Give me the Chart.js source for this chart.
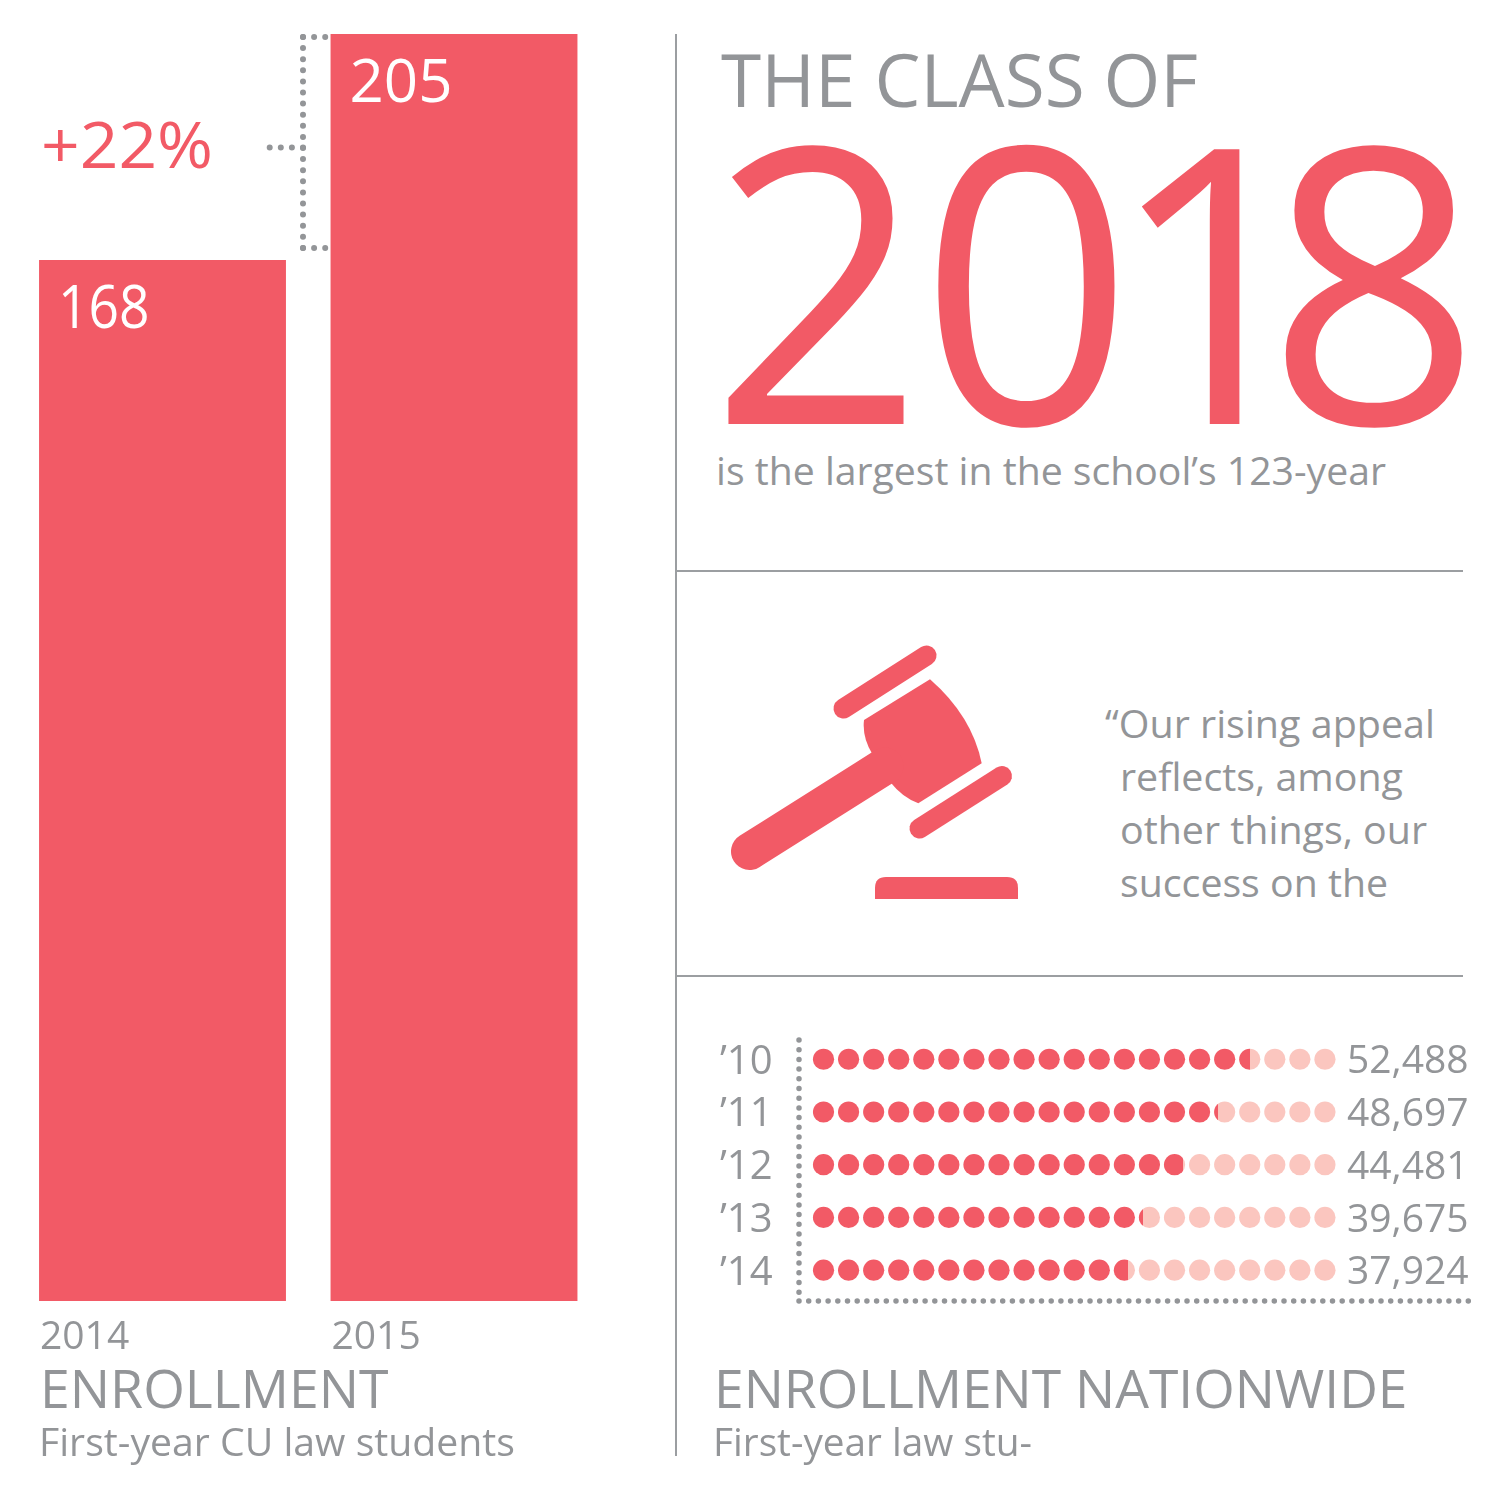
<!DOCTYPE html>
<html><head><meta charset="utf-8">
<script src="https://cdn.jsdelivr.net/npm/chart.js@4"></script>
<style>
html,body{margin:0;padding:0;background:#fff;width:1500px;height:1496px;overflow:hidden}
#page{position:relative;width:1500px;height:1496px;overflow:hidden}
canvas{position:absolute;display:block;left:0;top:0}
#barBox{position:absolute;left:0;top:0;width:660px;height:1496px}
#dotBox{position:absolute;left:718px;top:1000px;width:782px;height:496px}
.t{position:absolute;white-space:nowrap;font-family:"Open Sans",sans-serif;font-weight:400;line-height:normal;transform-origin:0 0}
.rule{position:absolute;background:#9b9ea1}
svg{position:absolute;left:0;top:0}
</style></head>
<body><div id="page">
<div class="rule" style="left:675px;top:34px;width:2px;height:1422px"></div>
<div class="rule" style="left:677px;top:570px;width:786px;height:2px"></div>
<div class="rule" style="left:677px;top:975px;width:786px;height:2px"></div>
<svg width="1500" height="1496" viewBox="0 0 1500 1496">
 <g fill="#F25A66" stroke="none">
  <path d="M930 679.3Q972 716 981.7 763.3L918.3 803.3Q902 797 890 781.7L872.3 754Q862 737 864 720Z"/>
  <path d="M875 899V888Q875 877 886 877H1007Q1018 877 1018 888V899Z"/>
 </g>
 <g fill="none" stroke="#F25A66" stroke-linecap="round">
  <line x1="843.5" y1="708.5" x2="926.5" y2="655.5" stroke-width="20"/>
  <line x1="919.5" y1="828.5" x2="1002" y2="776" stroke-width="20"/>
  <line x1="749.5" y1="851.5" x2="885" y2="766" stroke-width="37"/>
 </g>
</svg>
<div id="barBox"><canvas id="bars" width="660" height="1496"></canvas></div>
<div id="dotBox"><canvas id="dots" width="782" height="496"></canvas></div>
<div class="t" id="big" style="left:710px;top:12.4px;font-size:385px;color:#F25A66;transform:scaleX(.972)"><span style="letter-spacing:-4.6px">2</span><span style="letter-spacing:-26.2px">0</span><span style="letter-spacing:-56.6px">1</span><span>8</span></div>
</div>
<script>
const barYears = ['2014','2015'];
const barValues = [168,205];
const dotYears = ['\u201910','\u201911','\u201912','\u201913','\u201914'];
const nationwide = [52488,48697,44481,39675,37924];
const nationwideLabels = ['52,488','48,697','44,481','39,675','37,924'];
const dotSlots = [1500,4500,7500,10500,13500,16500,19500,22500,25500,28500,31500,34500,37500,40500,43500,46500,49500,52500,55500,58500,61500];
const dotAxisMax = 63000;

const RED='#F25A66', LIGHT='#FBC6BF', GRAY='#939598';
const FONT='"Open Sans", sans-serif';

function fit(text,left,baseline,size,width,color){
  const d=document.createElement('div');
  d.className='t';d.textContent=text;
  d.style.fontSize=size+'px';d.style.color=color||GRAY;
  d.style.left=left+'px';d.style.top=(baseline-1.069*size)+'px';
  document.getElementById('page').appendChild(d);
  const w=d.getBoundingClientRect().width;
  d.style.transform='scaleX('+(width/w)+')';
}
fit('+22%',41,168,64,172,RED);
fit('THE CLASS OF',721,107,73,477,GRAY);
fit('is the largest in the school\u2019s 123-year',716,485,38,670,GRAY);
fit('\u201COur rising appeal',1105,738,38,330,GRAY);
fit('reflects, among',1120,791,38,283,GRAY);
fit('other things, our',1120,844,38,307,GRAY);
fit('success on the',1120,897,38,268,GRAY);
fit('ENROLLMENT',39.5,1408,53,348.5,GRAY);
fit('First-year CU law students',39,1456,38,476,GRAY);
fit('ENROLLMENT NATIONWIDE',713.5,1408,53,693.5,GRAY);
fit('First-year law stu-',713,1456,38,319,GRAY);

const barLabels={id:'barLabels',afterDatasetsDraw(c){
  const g=c.ctx,m=c.getDatasetMeta(0);
  g.save();g.fillStyle='#fff';g.font='400 60px '+FONT;g.textBaseline='alphabetic';
  m.data.forEach((el,i)=>{
    const s=String(barValues[i]);
    g.save();g.translate(el.x-el.width/2+19,el.y+68);g.scale(s.includes('1')?0.89:1,1);g.fillText(s,0,0);g.restore();
  });
  g.restore();
}};
const bracket={id:'bracket',afterDraw(c){
  const g=c.ctx,y=c.scales.y;
  const top=y.getPixelForValue(205)+3, bot=y.getPixelForValue(168)-12;
  g.save();g.strokeStyle=GRAY;g.lineWidth=6;g.lineCap='round';g.setLineDash([0,11.1]);
  const seg=(a,b,e,f)=>{g.beginPath();g.moveTo(a,b);g.lineTo(e,f);g.stroke();};
  seg(303,top,303,bot+.5);
  seg(303,top,326,top);
  seg(303,bot,326,bot);
  seg(303,147.5,269,147.5);
  g.restore();
}};
new Chart(document.getElementById('bars'),{
  type:'bar',
  data:{labels:barYears,datasets:[{data:barValues,base:-2.4,backgroundColor:RED,barPercentage:0.847,categoryPercentage:1,borderWidth:0}]},
  plugins:[barLabels,bracket],
  options:{responsive:false,animation:false,devicePixelRatio:1,
    layout:{padding:{top:34,left:16.75,right:60.25,bottom:0}},
    plugins:{legend:{display:false},tooltip:{enabled:false},title:{display:false}},
    scales:{
      y:{display:false,min:-2.4,max:205},
      x:{afterFit(s){s.height=195;},grid:{display:false,drawTicks:false},border:{display:false},
        ticks:{align:'start',labelOffset:-122.5,padding:13,maxRotation:0,color:GRAY,font:{family:FONT,size:39,weight:'400'}}}
    }
  }
});

const dotFrame={id:'dotFrame',beforeDatasetsDraw(c){
  const g=c.ctx;
  g.save();g.strokeStyle=GRAY;g.lineWidth=5.5;g.lineCap='round';g.setLineDash([0,9.7]);
  const ax=c.scales.x.getPixelForValue(0)-12;
  const by=c.scales.y.bottom+4.5;
  g.beginPath();g.moveTo(ax,40);g.lineTo(ax,by-6);g.stroke();
  g.beginPath();g.moveTo(ax,by);g.lineTo(757,by);g.stroke();
  g.restore();
}};
new Chart(document.getElementById('dots'),{
  type:'scatter',
  data:{datasets:dotYears.map((yr,i)=>({
    label:yr,
    data:dotSlots.map(v=>({x:v,y:yr})),
    pointRadius:10.6,pointHoverRadius:10.6,pointBorderWidth:0,showLine:false,
    pointBackgroundColor(ctx){
      const x=ctx.chart.scales.x;
      const p0=x.getPixelForValue(0),p1=x.getPixelForValue(dotAxisMax);
      if(!isFinite(p0)||!isFinite(p1))return RED;
      const a=ctx.chart.ctx.createLinearGradient(p0,0,p1,0);
      const f=nationwide[i]/dotAxisMax;
      a.addColorStop(0,RED);a.addColorStop(f,RED);a.addColorStop(f,LIGHT);a.addColorStop(1,LIGHT);
      return a;
    }
  }))},
  plugins:[dotFrame],
  options:{responsive:false,animation:false,devicePixelRatio:1,
    layout:{padding:{top:32.3,left:2,right:0,bottom:199.5}},
    plugins:{legend:{display:false},tooltip:{enabled:false}},
    scales:{
      x:{type:'linear',display:false,min:0,max:dotAxisMax},
      y:{type:'category',labels:dotYears,offset:true,position:'left',afterFit(s){s.width=91;},
        grid:{display:false,drawTicks:false},border:{display:false},
        ticks:{crossAlign:'far',padding:0,labelOffset:3,color:GRAY,font:{family:FONT,size:40,weight:'400'}}},
      y2:{type:'category',labels:nationwideLabels,offset:true,position:'right',afterFit(s){s.width=162.5;},
        grid:{display:false,drawTicks:false},border:{display:false},
        ticks:{crossAlign:'near',padding:9.5,labelOffset:3,color:GRAY,font:{family:FONT,size:39,weight:'400'}}}
    }
  }
});
</script>
</body></html>
